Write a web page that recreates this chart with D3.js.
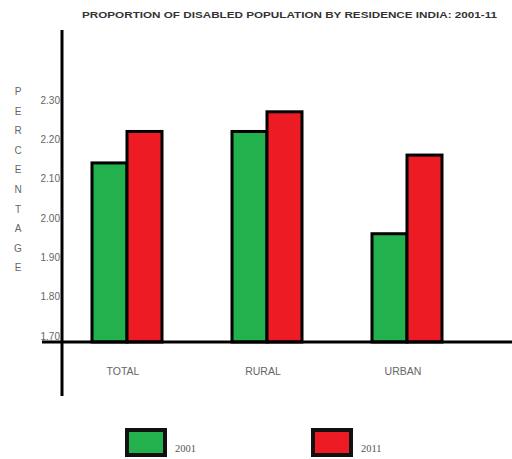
<!DOCTYPE html>
<html>
<head>
<meta charset="utf-8">
<script src="https://cdn.jsdelivr.net/npm/d3@7"></script>
<style>
  body { margin: 0; background: #fff; }
  svg { display: block; }
  text { font-family: "Liberation Sans", Arial, sans-serif; }
</style>
</head>
<body>
<svg id="chart" width="512" height="459"></svg>
<script>
// data
const categories = ["TOTAL", "RURAL", "URBAN"];
const years = ["2001", "2011"];
const values2001 = [2.14, 2.22, 1.96];
const values2011 = [2.22, 2.27, 2.16];
const yTicks = [1.70, 1.80, 1.90, 2.00, 2.10, 2.20, 2.30];
const yTitle = "PERCENTAGE";
const title = "PROPORTION OF DISABLED POPULATION BY RESIDENCE INDIA: 2001-11";

const colors = { "2001": "#22b14c", "2011": "#ed1c24" };

const svg = d3.select("#chart");

const baseline = 342;
const axisX = 62;

// y scale
const y = d3.scaleLinear()
    .domain([1.70, 2.30])
    .range([336, 100]);

// category scale
const x0 = d3.scaleBand()
    .domain(categories)
    .range([57, 477])
    .paddingInner(0.5)
    .paddingOuter(0.25);

const x1 = d3.scaleBand()
    .domain(years)
    .range([0, x0.bandwidth()]);

const rows = categories.map((c, i) => ({
    cat: c,
    vals: [{ year: "2001", v: values2001[i] }, { year: "2011", v: values2011[i] }]
}));

// title
svg.append("text")
    .attr("x", 82)
    .attr("y", 18)
    .attr("textLength", 415)
    .attr("lengthAdjust", "spacingAndGlyphs")
    .style("font-size", "9.5px")
    .style("font-weight", "bold")
    .attr("fill", "#333")
    .text(title);

// bars
svg.selectAll("g.grp")
    .data(rows)
    .enter()
    .append("g")
    .attr("class", "grp")
    .attr("transform", d => "translate(" + x0(d.cat) + ",0)")
    .selectAll("rect")
    .data(d => d.vals)
    .enter()
    .append("rect")
    .attr("x", d => x1(d.year))
    .attr("y", d => y(d.v))
    .attr("width", x1.bandwidth())
    .attr("height", d => baseline - y(d.v))
    .attr("fill", d => colors[d.year])
    .attr("stroke", "#000")
    .attr("stroke-width", 3);

// axis lines
svg.append("line")
    .attr("x1", axisX).attr("x2", axisX)
    .attr("y1", 30).attr("y2", 396)
    .attr("stroke", "#000").attr("stroke-width", 3);

svg.append("line")
    .attr("x1", 42).attr("x2", 512)
    .attr("y1", baseline).attr("y2", baseline)
    .attr("stroke", "#000").attr("stroke-width", 3);

// y tick labels
const yAxis = svg.append("g")
    .attr("transform", "translate(" + (axisX - 2) + ",0)")
    .call(d3.axisLeft(y).tickValues(yTicks).tickFormat(d3.format(".2f")).tickSize(0).tickPadding(0));
yAxis.select(".domain").remove();
yAxis.selectAll("text")
    .attr("fill", "#666")
    .style("font-size", "10px")
    .style("font-family", "'Liberation Sans Narrow', 'Liberation Sans', sans-serif");

// vertical y title letters
svg.append("g")
    .selectAll("text")
    .data(yTitle.split(""))
    .enter()
    .append("text")
    .attr("x", 18)
    .attr("y", (d, i) => 95 + i * 19.6)
    .attr("text-anchor", "middle")
    .attr("fill", "#666")
    .style("font-size", "10px")
    .text(d => d);

// category labels
svg.append("g")
    .selectAll("text")
    .data(categories)
    .enter()
    .append("text")
    .attr("x", d => x0(d) + x0.bandwidth() / 2 - 4)
    .attr("y", 375)
    .attr("text-anchor", "middle")
    .attr("fill", "#666")
    .style("font-size", "10.5px")
    .text(d => d);

// legend
const legendX = d3.scalePoint().domain(years).range([127, 313]);
const leg = svg.append("g")
    .selectAll("g")
    .data(years)
    .enter()
    .append("g")
    .attr("transform", d => "translate(" + legendX(d) + ",430)");

leg.append("rect")
    .attr("width", 38)
    .attr("height", 25)
    .attr("fill", d => colors[d])
    .attr("stroke", "#111")
    .attr("stroke-width", 4);

leg.append("text")
    .attr("x", 48)
    .attr("y", 22)
    .attr("fill", "#555")
    .style("font-size", "10.5px")
    .style("font-family", "'Liberation Serif', serif")
    .text(d => d);
</script>
</body>
</html>
